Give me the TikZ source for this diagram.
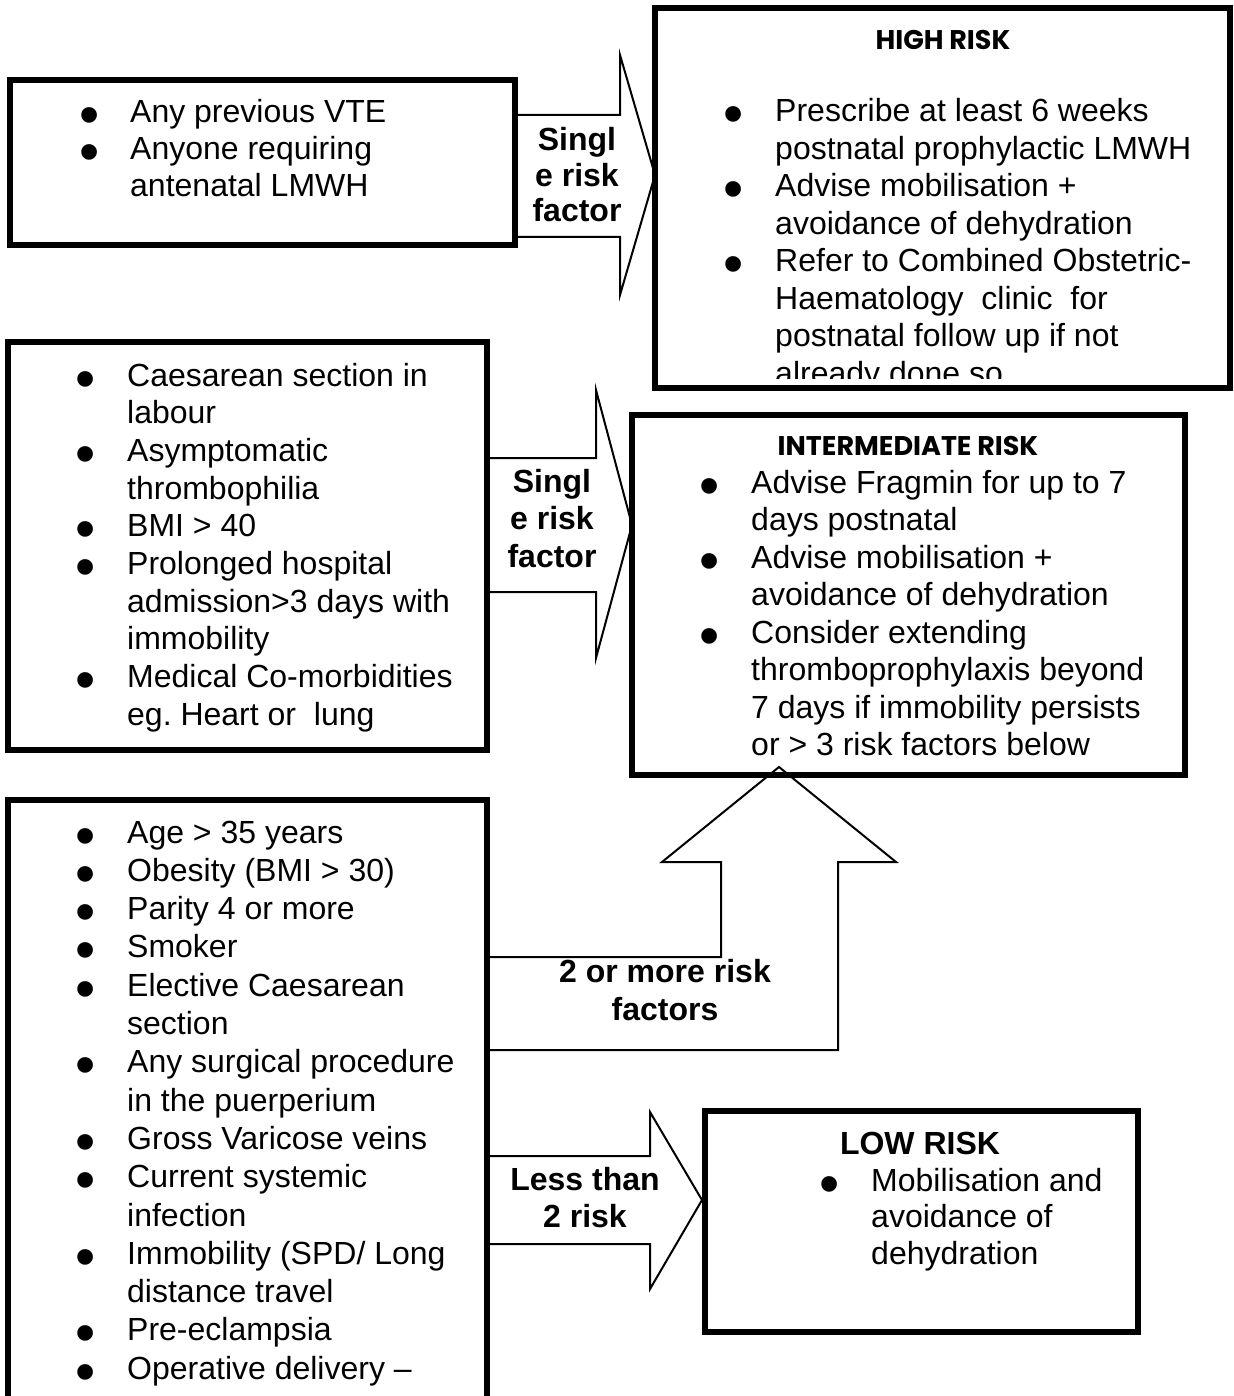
\documentclass[tikz,border=0pt]{standalone}
\usepackage{fontspec}
\setmainfont{Liberation Sans}
\newfontfamily\hdrfont{Poppins}
\usepackage{array}
\usepackage{graphicx}
\frenchspacing
\newcommand\bul{\makebox[0pt][c]{\raisebox{-12pt}[0pt][0pt]{\scalebox{1.8}{\textbullet}}}}
\tikzset{
  box/.style={draw=black, line width=6pt, rectangle, inner sep=0pt},
  blockarrow/.style={draw=black, line width=2pt, line join=miter},
  lst/.style={anchor=base west, inner sep=0pt, font=\fontsize{32}{#1}\selectfont},
  lbl/.style={anchor=base, inner sep=0pt, font=\fontsize{32}{#1}\selectfont\bfseries},
  hdr/.style={anchor=center, inner sep=0pt, font=\hdrfont\fontsize{27}{30}\selectfont\bfseries},
}
\begin{document}
\begin{tikzpicture}[x=1pt, y=-1pt]
\useasboundingbox (0,0) rectangle (1233,1396);
\clip (0,0) rectangle (1233,1396);

% block arrows (drawn first, boxes on top)
\coordinate (tA) at (655,175);
\draw[blockarrow] (515,115) -- (620,115) -- (620,55) -- (tA) -- (620,295) -- (620,237) -- (515,237);
\coordinate (tB) at (632,525);
\draw[blockarrow] (487,458) -- (596,458) -- (596,390) -- (tB) -- (596,658) -- (596,592) -- (487,592);
\coordinate (tC) at (779,767);
\draw[blockarrow] (487,957) -- (721,957) -- (721,862) -- (662,862) -- (tC) -- (896,862) -- (838,862) -- (838,1050) -- (487,1050);
\coordinate (tD) at (702,1200);
\draw[blockarrow] (487,1156) -- (650,1156) -- (650,1112) -- (tD) -- (650,1289) -- (650,1244) -- (487,1244);

% boxes
\node[box, minimum width=505pt, minimum height=165pt] (box1) at (262.5,162.5) {};
\node[box, minimum width=575pt, minimum height=380pt] (high) at (942.5,198) {};
\node[box, minimum width=479pt, minimum height=408pt] (box2) at (247.5,546) {};
\node[box, minimum width=553pt, minimum height=360pt] (inter) at (908.5,595) {};
\node[box, minimum width=479pt, minimum height=620pt] (box3) at (247.5,1110) {};
\node[box, minimum width=433pt, minimum height=221pt] (low) at (921.5,1221.5) {};

% arrow labels
\node[lbl=35.5] (lA) at (577,151) {\begin{tabular}[t]{@{}c@{}}Singl\\e risk\\factor\end{tabular}};
\node[lbl=37.5] (lB) at (552,492) {\begin{tabular}[t]{@{}c@{}}Singl\\e risk\\factor\end{tabular}};
\node[lbl=38] (lC) at (665,982) {\begin{tabular}[t]{@{}c@{}}2 or more risk\\factors\end{tabular}};
\node[lbl=37] (lD) at (585,1190) {\begin{tabular}[t]{@{}c@{}}Less than\\2 risk\end{tabular}};

% left lists
\node[lst=37] (t1) at (89,123) {\begin{tabular}[t]{@{}l@{\hspace{41pt}}l@{}}
\bul & Any previous VTE\\
\bul & Anyone requiring\\
 & antenatal LMWH
\end{tabular}};

\node[lst=37.67] (t2) at (85,386) {\begin{tabular}[t]{@{}l@{\hspace{42pt}}l@{}}
\bul & Caesarean section in\\
 & labour\\
\bul & Asymptomatic\\
 & thrombophilia\\
\bul & BMI > 40\\
\bul & Prolonged hospital\\
 & admission>3 days with\\
 & immobility\\
\bul & Medical Co-morbidities\\
 & eg. Heart or\ \ lung
\end{tabular}};

\node[lst=38.3] (t3) at (85,843) {\begin{tabular}[t]{@{}l@{\hspace{42pt}}l@{}}
\bul & Age > 35 years\\
\bul & Obesity (BMI > 30)\\
\bul & Parity 4 or more\\
\bul & Smoker\\
\bul & Elective Caesarean\\
 & section\\
\bul & Any surgical procedure\\
 & in the puerperium\\
\bul & Gross Varicose veins\\
\bul & Current systemic\\
 & infection\\
\bul & Immobility (SPD/ Long\\
 & distance travel\\
\bul & Pre-eclampsia\\
\bul & Operative delivery –
\end{tabular}};

% high risk
\node[hdr] (hH) at (943,40) {HIGH RISK};
\begin{scope}
\clip (655,0) rectangle (1230,378);
\node[lst=37.43] (tH) at (733,122) {\begin{tabular}[t]{@{}l@{\hspace{42pt}}l@{}}
\bul & Prescribe at least 6 weeks\\
 & postnatal prophylactic LMWH\\
\bul & Advise mobilisation +\\
 & avoidance of dehydration\\
\bul & Refer to Combined Obstetric-\\
 & Haematology\ \ clinic\ \ for\\
 & postnatal follow up if not\\
 & already done so
\end{tabular}};
\end{scope}

% intermediate risk
\node[hdr] (hI) at (908,446) {INTERMEDIATE RISK};
\node[lst=37.57] (tI) at (709,493) {\begin{tabular}[t]{@{}l@{\hspace{42pt}}l@{}}
\bul & Advise Fragmin for up to 7\\
 & days postnatal\\
\bul & Advise mobilisation +\\
 & avoidance of dehydration\\
\bul & Consider extending\\
 & thromboprophylaxis beyond\\
 & 7 days if immobility persists\\
 & or > 3 risk factors below
\end{tabular}};

% low risk
\node[anchor=center, inner sep=0pt, font=\fontsize{32}{36}\selectfont\bfseries] (hL) at (920,1143) {LOW RISK};
\node[lst=36.5] (tL) at (829,1191) {\begin{tabular}[t]{@{}l@{\hspace{42pt}}l@{}}
\bul & Mobilisation and\\
 & avoidance of\\
 & dehydration
\end{tabular}};
\end{tikzpicture}
\end{document}
